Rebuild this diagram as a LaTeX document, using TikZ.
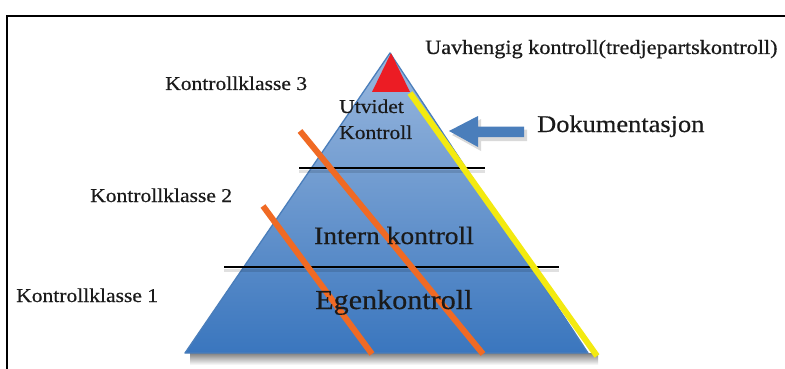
\documentclass[tikz,border=0pt]{standalone}
\usepackage{fontspec}
\setmainfont[FakeStretch=1.1,FakeBold=0.5]{Liberation Serif}
\definecolor{tritop}{HTML}{9AB8DE}
\definecolor{trimid}{HTML}{6893CD}
\definecolor{tribot}{HTML}{3A76BE}
\definecolor{triline}{HTML}{4A7EBB}
\definecolor{korange}{HTML}{F06A24}
\definecolor{kyellow}{HTML}{F3EA10}
\definecolor{kred}{HTML}{EC1C24}
\definecolor{arrowblue}{HTML}{4A7EBB}
\definecolor{txt}{HTML}{1A1A1A}
\begin{document}
\begin{tikzpicture}[x=1pt,y=-1pt,
  lbl/.style={anchor=base west,inner sep=0pt,text=txt},
  sepline/.style={line width=2.8pt,black},
  sepshadow/.style={line width=3pt,black,opacity=0.12},
  orangeline/.style={korange,line width=6pt},
  yellowline/.style={kyellow,line width=6pt}]
\useasboundingbox (0,0) rectangle (785,369);
\fill[white] (0,0) rectangle (785,369);
% frame
\draw[line width=2.5pt] (7,370) -- (7,16) -- (786,16);

% pyramid
\coordinate (A) at (390,53);
\coordinate (BL) at (185,353);
\coordinate (BR) at (588,353);
\shade[top color=black!50, bottom color=white] (190,353) rectangle (598,365);
\shade[top color=tritop, middle color=trimid, bottom color=tribot] (A) -- (BL) -- (BR) -- cycle;
\draw[triline, line width=1.3pt, line join=round] (A) -- (BL) -- (BR) -- cycle;

% separator lines
\coordinate (s1a) at (299,168); \coordinate (s1b) at (485,168);
\coordinate (s2a) at (224,267); \coordinate (s2b) at (559,267);
\draw[sepshadow] ([yshift=-3pt]s1a) -- ([yshift=-3pt]s1b);
\draw[sepshadow] ([yshift=-3pt]s2a) -- ([yshift=-3pt]s2b);
\draw[sepline] (s1a) -- (s1b);
\draw[sepline] (s2a) -- (s2b);

% orange lines
\coordinate (o1a) at (263,206); \coordinate (o1b) at (372,354);
\coordinate (o2a) at (300,131); \coordinate (o2b) at (483,354);
\draw[orangeline] (o1a) -- (o1b);
\draw[orangeline] (o2a) -- (o2b);

% yellow line
\coordinate (y1) at (410,93); \coordinate (y2) at (597,356);
\draw[yellowline] (y1) -- (y2);

% red top
\fill[kred] (391,53) -- (372,92) -- (410,92) -- cycle;

% arrow
\coordinate (tip) at (449,131);
\fill[black,opacity=0.15] (452,135) -- (481,119) -- (481,129.5) -- (527,129.5) -- (527,141) -- (481,141) -- (481,151) -- cycle;
\fill[arrowblue] (tip) -- (478,116) -- (478,126.5) -- (524,126.5) -- (524,137) -- (478,137) -- (478,147) -- cycle;

% texts
\node[lbl,font=\fontsize{20.2}{22}\selectfont] (uav) at (425,54) {Uavhengig kontroll(tredjepartskontroll)};
\node[lbl,font=\fontsize{19.6}{22}\selectfont] (k3) at (165,90) {Kontrollklasse 3};
\node[lbl,font=\fontsize{19.6}{22}\selectfont] (k2) at (90,202) {Kontrollklasse 2};
\node[lbl,font=\fontsize{19.6}{22}\selectfont] (k1) at (16,302) {Kontrollklasse 1};
\node[lbl,font=\fontsize{19.6}{22}\selectfont] (utv) at (339,113) {Utvidet};
\node[lbl,font=\fontsize{19.6}{22}\selectfont] (utk) at (339,139) {Kontroll};
\node[lbl,font=\fontsize{24}{26}\selectfont] (dok) at (537,132) {Dokumentasjon};
\node[lbl,font=\fontsize{25}{28}\selectfont] (int) at (314,244) {Intern kontroll};
\node[lbl,font=\fontsize{27.4}{30}\selectfont] (egen) at (315,309) {Egenkontroll};
\end{tikzpicture}
\end{document}
